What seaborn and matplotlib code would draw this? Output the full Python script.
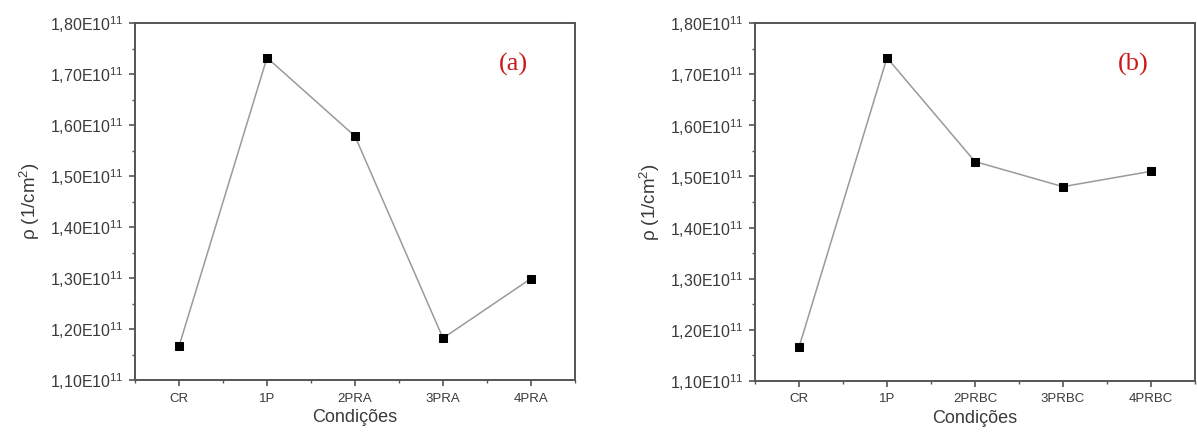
import numpy as np
import pandas as pd
import matplotlib
matplotlib.use("Agg")
import matplotlib.pyplot as plt
from matplotlib.ticker import FuncFormatter, MultipleLocator, FixedLocator
import seaborn as sns

# Dislocation density per processing condition
conditions_a = ["CR", "1P", "2PRA", "3PRA", "4PRA"]
rho_a = [1.166e11, 1.732e11, 1.578e11, 1.182e11, 1.299e11]

conditions_b = ["CR", "1P", "2PRBC", "3PRBC", "4PRBC"]
rho_b = [1.166e11, 1.732e11, 1.529e11, 1.480e11, 1.510e11]

panel_tags = ["(a)", "(b)"]
y_label = "ρ (1/cm$^2$)"
x_label = "Condições"

sns.set_theme(style="ticks")
plt.rcParams["font.family"] = ["Liberation Sans", "DejaVu Sans"]
plt.rcParams["mathtext.fontset"] = "custom"
plt.rcParams["mathtext.rm"] = "Liberation Sans"
plt.rcParams["mathtext.it"] = "Liberation Sans:italic"

fig = plt.figure(figsize=(11.97, 4.37), dpi=100)
ax_a = fig.add_axes([135 / 1197, 1 - 380 / 437, 440 / 1197, 357 / 437])
ax_b = fig.add_axes([755 / 1197, 1 - 381 / 437, 440 / 1197, 358 / 437])


def sci_label(v, pos):
    mant = v / 1e11
    return ("%.2f" % mant).replace(".", ",") + "E10$^{11}$"


spine_col = "#555555"
text_col = "#3a3a3a"

for ax, cats, vals, tag in [(ax_a, conditions_a, rho_a, panel_tags[0]),
                            (ax_b, conditions_b, rho_b, panel_tags[1])]:
    df = pd.DataFrame({"cond": cats, "rho": vals})
    sns.lineplot(data=df, x="cond", y="rho", sort=False, ax=ax,
                 color="#9a9a9a", linewidth=1.1, marker="s",
                 markersize=5.2, markerfacecolor="black",
                 markeredgecolor="black")
    ax.set_xlim(-0.5, 4.5)
    ax.set_ylim(1.10e11, 1.80e11)
    ax.yaxis.set_major_locator(MultipleLocator(0.1e11))
    ax.yaxis.set_minor_locator(MultipleLocator(0.05e11))
    ax.xaxis.set_minor_locator(FixedLocator(np.arange(-0.5, 5.0, 1.0)))
    ax.yaxis.set_major_formatter(FuncFormatter(sci_label))
    for s in ax.spines.values():
        s.set_color(spine_col)
        s.set_linewidth(1.4)
    ax.tick_params(axis="both", which="major", direction="out", length=4,
                   width=1.2, color=spine_col, labelcolor=text_col)
    ax.tick_params(axis="both", which="minor", direction="out", length=2.5,
                   width=1.0, color=spine_col)
    ax.tick_params(axis="y", labelsize=11.5, pad=4)
    ax.tick_params(axis="x", labelsize=9.5, pad=5)
    ax.set_ylabel(y_label, fontsize=13.5, color=text_col, labelpad=6)
    ax.set_xlabel(x_label, fontsize=13, color=text_col, labelpad=3)
    ax.grid(False)
    ax.text(0.86, 0.885, tag, transform=ax.transAxes, fontsize=19,
            family="Liberation Serif", color="#cc1a1a",
            ha="center", va="center")

fig.savefig("out.png", dpi=100, facecolor="white")
